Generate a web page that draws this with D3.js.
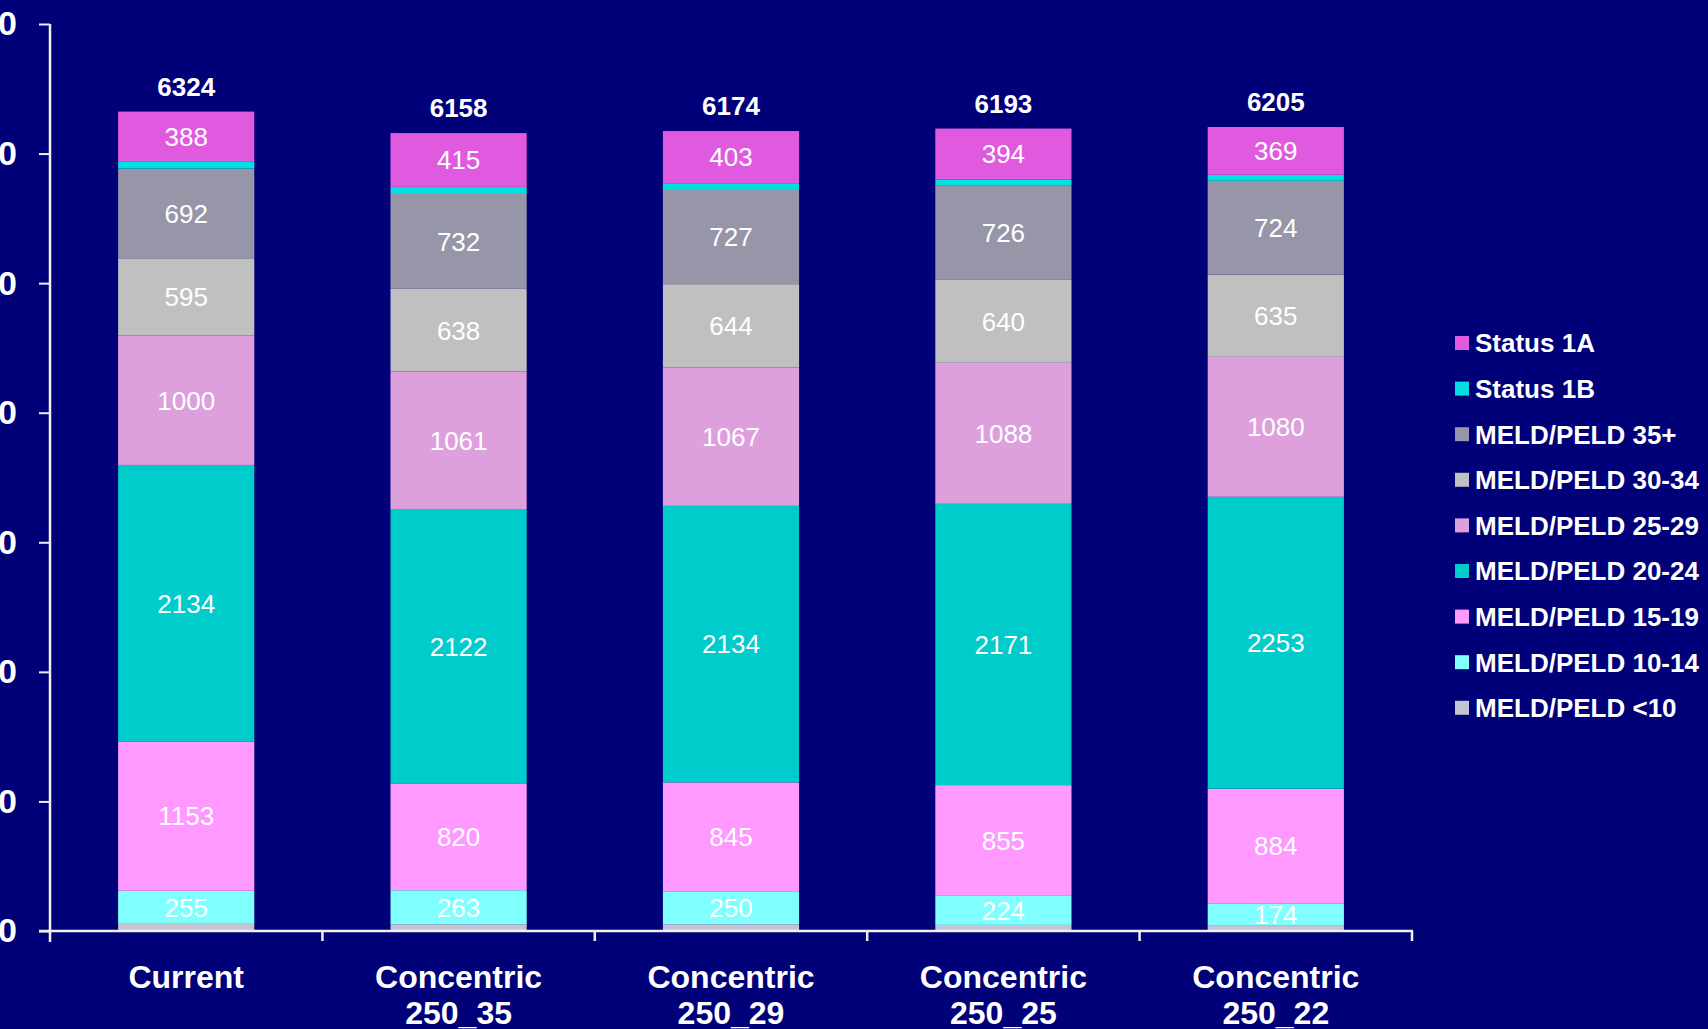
<!DOCTYPE html>
<html>
<head>
<meta charset="utf-8">
<script src="https://cdn.jsdelivr.net/npm/d3@7"></script>
<style>
  html, body { margin: 0; padding: 0; background: #000078; overflow: hidden; }
  svg { display: block; font-family: "Liberation Sans", Arial, sans-serif; }
</style>
</head>
<body>
<svg id="chart" width="1708" height="1029"></svg>
<script>
// Waiting-list composition by allocation scenario
const categories = [["Current"], ["Concentric", "250_35"], ["Concentric", "250_29"], ["Concentric", "250_25"], ["Concentric", "250_22"]];
const totals = [6324, 6158, 6174, 6193, 6205];

// Stack order: bottom to top
const seriesNames = ["MELD/PELD <10", "MELD/PELD 10-14", "MELD/PELD 15-19", "MELD/PELD 20-24",
                     "MELD/PELD 25-29", "MELD/PELD 30-34", "MELD/PELD 35+", "Status 1B", "Status 1A"];
const meldLt10   = [55, 52, 52, 47, 40];
const meld10_14  = [255, 263, 250, 224, 174];
const meld15_19  = [1153, 820, 845, 855, 884];
const meld20_24  = [2134, 2122, 2134, 2171, 2253];
const meld25_29  = [1000, 1061, 1067, 1088, 1080];
const meld30_34  = [595, 638, 644, 640, 635];
const meld35plus = [692, 732, 727, 726, 724];
const status1B   = [52, 55, 52, 48, 46];
const status1A   = [388, 415, 403, 394, 369];
const seriesValues = [meldLt10, meld10_14, meld15_19, meld20_24, meld25_29, meld30_34, meld35plus, status1B, status1A];
// Segments that carry a value label
const labelled = [false, true, true, true, true, true, true, false, true];

const colors = ["#C4C4D4", "#80FFFF", "#FF99FF", "#00CCCC", "#DDA0DD", "#C0C0C0", "#9696A8", "#00E0E0", "#E05ADF"];
const yTicks = [0, 1000, 2000, 3000, 4000, 5000, 6000, 7000];

const svg = d3.select("#chart");
const axisColor = "#F0F0F0";

const x = d3.scaleBand().domain(d3.range(categories.length))
  .range([50, 1412]).paddingInner(0.5).paddingOuter(0.25);
const y = d3.scaleLinear().domain([0, 7000]).range([931, 24]);

// Stack table built from the named series
const rows = categories.map((c, i) => {
  const r = { idx: i };
  seriesNames.forEach((s, k) => { r[s] = seriesValues[k][i]; });
  return r;
});
const stacked = d3.stack().keys(seriesNames)(rows);

// Bars
const layers = svg.append("g").selectAll("g").data(stacked).join("g")
  .attr("fill", (d, k) => colors[k]);
layers.selectAll("rect").data(d => d).join("rect")
  .attr("x", d => x(d.data.idx))
  .attr("width", x.bandwidth())
  .attr("y", d => y(d[1]))
  .attr("height", d => y(d[0]) - y(d[1]));

// Segment value labels
stacked.forEach((layer, k) => {
  if (!labelled[k]) return;
  svg.append("g").selectAll("text").data(layer).join("text")
    .attr("x", d => x(d.data.idx) + x.bandwidth() / 2)
    .attr("y", d => (y(d[0]) + y(d[1])) / 2)
    .attr("dy", "0.36em")
    .attr("text-anchor", "middle")
    .attr("fill", "#FFFFFF")
    .attr("font-size", 26)
    .text(d => d.data[seriesNames[k]]);
});

// Totals above bars
svg.append("g").selectAll("text").data(totals).join("text")
  .attr("x", (d, i) => x(i) + x.bandwidth() / 2)
  .attr("y", d => y(d) - 16)
  .attr("text-anchor", "middle")
  .attr("fill", "#FFFFFF")
  .attr("font-weight", "bold")
  .attr("font-size", 26)
  .text(d => d);

// Y axis
const yAxis = svg.append("g").attr("transform", "translate(50,0)")
  .call(d3.axisLeft(y).tickValues(yTicks).tickSize(11).tickPadding(22).tickFormat(d3.format("d")));
yAxis.select(".domain").remove();
yAxis.selectAll(".tick line").attr("stroke", axisColor).attr("stroke-width", 2);
yAxis.selectAll(".tick text").attr("fill", "#FFFFFF").attr("font-weight", "bold")
  .attr("font-size", 34).attr("font-family", "Liberation Sans, Arial, sans-serif");
svg.append("line").attr("x1", 50).attr("x2", 50).attr("y1", y(7000)).attr("y2", y(0) + 11)
  .attr("stroke", axisColor).attr("stroke-width", 2.5);

// X axis
svg.append("line").attr("x1", 39).attr("x2", 1413).attr("y1", y(0)).attr("y2", y(0))
  .attr("stroke", axisColor).attr("stroke-width", 2.5);
const bounds = d3.range(1, categories.length + 1).map(i => x(i - 1) + x.bandwidth() + x.step() * x.paddingOuter() * 1);
svg.append("g").selectAll("line").data(bounds).join("line")
  .attr("x1", d => d).attr("x2", d => d)
  .attr("y1", y(0)).attr("y2", y(0) + 10)
  .attr("stroke", axisColor).attr("stroke-width", 2.5);

// Category labels
const cat = svg.append("g").selectAll("text").data(categories).join("text")
  .attr("x", (d, i) => x(i) + x.bandwidth() / 2)
  .attr("y", 988)
  .attr("text-anchor", "middle")
  .attr("fill", "#FFFFFF")
  .attr("font-weight", "bold")
  .attr("font-size", 32);
cat.selectAll("tspan").data(d => d).join("tspan")
  .attr("x", function () { return this.parentNode.getAttribute("x"); })
  .attr("dy", (d, j) => j === 0 ? 0 : 36)
  .text(d => d);

// Legend (top entry is the top of the stack)
const legendOrder = d3.range(seriesNames.length).reverse();
const legend = svg.append("g").selectAll("g").data(legendOrder).join("g")
  .attr("transform", (d, j) => `translate(1455,${343 + j * 45.6})`);
legend.append("rect").attr("x", 0).attr("y", -7).attr("width", 14).attr("height", 14)
  .attr("fill", d => colors[d]);
legend.append("text").attr("x", 20).attr("dy", "0.36em")
  .attr("fill", "#FFFFFF").attr("font-weight", "bold").attr("font-size", 26)
  .text(d => seriesNames[d]);
</script>
</body>
</html>
